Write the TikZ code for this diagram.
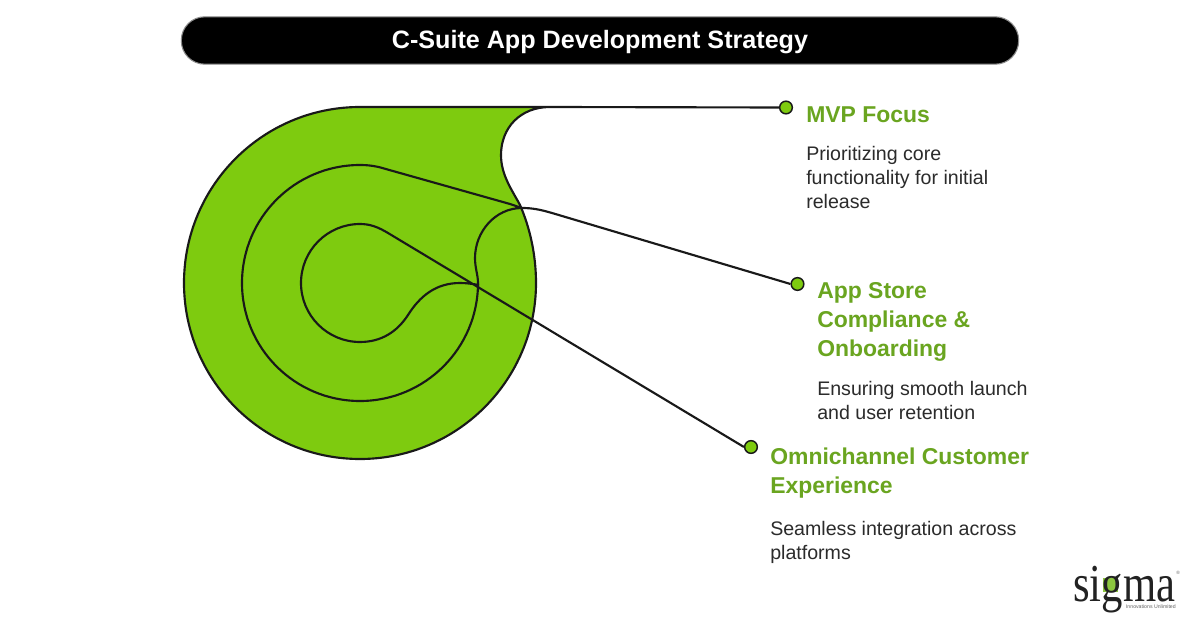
\documentclass[tikz,border=0pt]{standalone}
\usepackage{fontspec}
\setmainfont{Liberation Sans}
\newfontfamily\logofont{Liberation Serif}
\definecolor{leaf}{HTML}{7ECB0F}
\definecolor{headgreen}{HTML}{6AA520}
\definecolor{bodyink}{HTML}{2B2B2B}
\definecolor{logoink}{HTML}{222222}
\definecolor{logogreen}{HTML}{8CC63F}
\tikzset{
  wire/.style={draw=black!90,line width=1.6pt,line join=round},
  dotmark/.style={circle,draw=black!90,fill=leaf,line width=1.1pt,minimum size=9.5pt,inner sep=0pt},
  headtext/.style={anchor=north west,align=left,inner sep=0pt,text=headgreen,font=\fontsize{17.2}{22}\selectfont\bfseries},
  desctext/.style={anchor=north west,align=left,inner sep=0pt,text=bodyink,font=\fontsize{14.7}{18}\selectfont},
  logotext/.style={inner sep=0pt,anchor=base west,text=logoink,font=\logofont\fontsize{40}{40}\selectfont},
}
\begin{document}
\begin{tikzpicture}[x=0.75pt,y=-0.75pt]
\useasboundingbox (0,0) rectangle (1200,627);
\fill[white] (0,0) rectangle (1200,627);
% title
\node[draw=black!45,line width=0.8pt,fill=black,rounded corners=17.5pt,minimum width=628pt,minimum height=35.5pt,inner sep=0pt] (title) at (600,40.5) {};
\node[text=white,font=\fontsize{18.85}{24}\selectfont\bfseries] (titletext) at (600,42) {C-Suite App Development Strategy};
% dots
\node[dotmark] (d1) at (786,107.5) {};
\node[dotmark] (d2) at (797.5,284) {};
\node[dotmark] (d3) at (751,447) {};
% green body
\fill[leaf] (360,107) -- (550,107) .. controls (520,107) and (501,128) .. (501,155)
  .. controls (501,175) and (512,190) .. (520,205)
  .. controls (530,228) and (536,255) .. (536,283)
  arc[start angle=0,end angle=270,radius=176] -- cycle;
% outline 1
\draw[wire] (d1.west) -- (550,107) .. controls (520,107) and (501,128) .. (501,155)
  .. controls (501,175) and (512,190) .. (520,205)
  .. controls (530,228) and (536,255) .. (536,283)
  arc[start angle=0,end angle=270,radius=176] -- (550,107);
% outline 2
\draw[wire] (d2.west) -- (552,213) .. controls (540,209.5) and (532,208) .. (522,208)
  .. controls (495,208) and (475,232) .. (475,258)
  .. controls (475,268) and (478,275) .. (478,283)
  arc[start angle=0,end angle=270,radius=118]
  .. controls (368,165) and (376,166) .. (384,168.5) -- (510,204) .. controls (515,205.5) and (518,207) .. (522,208);
% outline 3
\draw[wire] (d3.west) -- (388,233) .. controls (378,227) and (370,224) .. (360,224)
  arc[start angle=270,end angle=90,radius=59]
  .. controls (381,342) and (397,332) .. (408,315)
  .. controls (420,296) and (436,283) .. (460,283)
  .. controls (467,283) and (473,284) .. (479,285);
% texts
\node[headtext] (h1) at (806,106) {MVP Focus};
\node[desctext] (t1) at (806,146.5) {Prioritizing core\\functionality for initial\\release};
\node[headtext] (h2) at (817,282) {App Store\\Compliance \&\\Onboarding};
\node[desctext] (t2) at (817,381) {Ensuring smooth launch\\and user retention};
\node[headtext] (h3) at (770,447.5) {Omnichannel Customer\\Experience};
\node[desctext] (t3) at (770,521) {Seamless integration across\\platforms};
% logo
\fill[logogreen] (1103,578) rectangle (1118,592);
\node[logotext] (logo) at (1073,601) {\scalebox{.8}[1]{sig}};
\node[logotext] (logoend) at (logo.base east) {\scalebox{.8}[1]{ma}};
\node[inner sep=0pt,anchor=base east,text=logoink!70,font=\fontsize{3.9}{5}\selectfont] (logosub) at (1176,608) {Innovations Unlimited};
\node[inner sep=0pt,text=logoink!70,font=\fontsize{3.5}{4}\selectfont] (logor) at (1178,573) {®};
\end{tikzpicture}
\end{document}
